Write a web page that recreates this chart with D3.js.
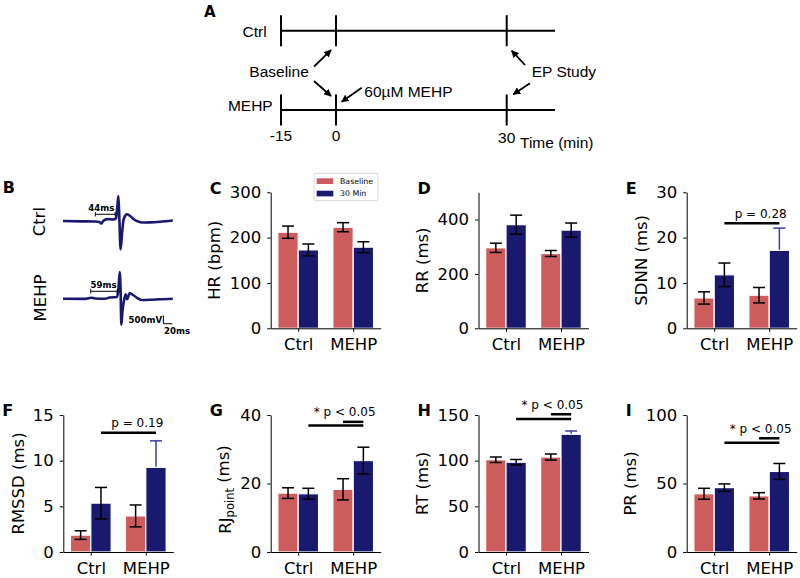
<!DOCTYPE html>
<html>
<head>
<meta charset="utf-8">
<title>MEHP ECG parameters</title>
<style>
  html, body { margin: 0; padding: 0; background: #fff; }
  svg { display: block; }
  text { font-family: "DejaVu Sans", sans-serif; fill: #000; }
  .schem text { font-family: "Liberation Sans", Arial, sans-serif; font-size: 15.5px; }
  .axis path, .axis line { stroke: #000; stroke-width: 1; }
  .axis text { font-size: 16.5px; font-family: "DejaVu Sans", sans-serif; }
</style>
</head>
<body>
<svg id="fig" width="800" height="578"></svg>
<script src="https://cdnjs.cloudflare.com/ajax/libs/d3/7.8.5/d3.min.js"></script>
<script>

// ---------- data ----------
var groups = ["Ctrl", "MEHP"];
var seriesNames = ["Baseline", "30 Min"];
var seriesColors = ["#cd5c5c", "#191970"];

// mean and s.e.m. for [Ctrl, MEHP]
var hrBase = [212, 223],     hrBaseErr = [13.5, 10];
var hr30 = [173, 179],       hr30Err = [13, 12];
var hrTicks = [0, 100, 200, 300];

var rrBase = [296, 275],     rrBaseErr = [17, 11];
var rr30 = [381, 361],       rr30Err = [35, 26];
var rrTicks = [0, 200, 400];

var sdnnBase = [6.7, 7.3],   sdnnBaseErr = [1.35, 1.7];
var sdnn30 = [11.8, 17.2],   sdnn30Err = [2.6, 4.9];
var sdnnTicks = [0, 10, 20, 30];

var rmssdBase = [1.85, 3.95], rmssdBaseErr = [0.47, 1.2];
var rmssd30 = [5.35, 9.27],   rmssd30Err = [1.72, 2.9];
var rmssdTicks = [0, 5, 10, 15];

var rjBase = [17.2, 18.3],   rjBaseErr = [1.55, 3.1];
var rj30 = [17.0, 26.7],     rj30Err = [1.6, 3.9];
var rjTicks = [0, 20, 40];

var rtBase = [101, 104],     rtBaseErr = [3, 3.3];
var rt30 = [98.3, 128.9],    rt30Err = [3, 3.6];
var rtTicks = [0, 50, 100, 150];

var prBase = [42.5, 41],     prBaseErr = [4, 2.3];
var pr30 = [47, 58.8],       pr30Err = [2.7, 5.8];
var prTicks = [0, 50, 100];

// significance bars: [from bar, to bar, height]; bars 0..3 = Ctrl-B, Ctrl-30, MEHP-B, MEHP-30
var sdnnSig = [[1, 3, 23.2]];
var rmssdSig = [[1, 3, 13.06]];
var rjSig = [[1, 3, 36.9], [2, 3, 38.0]];
var rtSig = [[1, 3, 145.6], [2, 3, 150.8]];
var prSig = [[1, 3, 79.8], [2, 3, 83.0]];

// panel A timeline
var timeRows = ["Ctrl", "MEHP"];
var timeTicks = [-15, 0, 30];

// panel B traces: [ms, mV]
var ecgCtrl = [[0,0],[40,-20],[72,-30],[82,-70],[85,-160],[88,-50],[92,60],[100,110],[110,90],
  [116,120],[118,180],[121,950],[123,1490],[125,350],[128,-1690],[131,-830],[134,0],[138,300],
  [142,400],[149,300],[158,90],[167,-30],[176,-90],[193,-80],[216,-40],[244,30]];
var ecgMehp = [[0,0],[49,-12],[63,60],[71,12],[93,-6],[104,71],[120,100],[123,520],[126,1590],
  [128,520],[129.6,-1550],[132,-790],[135.6,-95],[139.3,262],[142.2,-36],[145.6,161],[148.2,339],
  [155.6,220],[166.7,12],[174,-77],[193,-65],[215.6,-30],[244,0]];
var intervalCtrl = 44, intervalMehp = 59;

// ---------- layout ----------
var svg = d3.select("#fig");
var colX = [63.3, 270.7, 478.5, 686.7];
var axW = 110;
var rowY = [[192.3, 328.3], [415, 552]];
var barW = 0.37;

var panels = [
  {id: "C", label: "HR (bpm)", base: hrBase, baseErr: hrBaseErr, post: hr30, postErr: hr30Err, ticks: hrTicks, col: 1, row: 0, legend: true},
  {id: "D", label: "RR (ms)", base: rrBase, baseErr: rrBaseErr, post: rr30, postErr: rr30Err, ticks: rrTicks, max: 500, col: 2, row: 0},
  {id: "E", label: "SDNN (ms)", base: sdnnBase, baseErr: sdnnBaseErr, post: sdnn30, postErr: sdnn30Err, ticks: sdnnTicks, col: 3, row: 0, sig: sdnnSig, sigText: "p = 0.28", blueErr: true},
  {id: "F", label: "RMSSD (ms)", base: rmssdBase, baseErr: rmssdBaseErr, post: rmssd30, postErr: rmssd30Err, ticks: rmssdTicks, col: 0, row: 1, sig: rmssdSig, sigText: "p = 0.19", blueErr: true},
  {id: "G", label: "RJ", sub: "point", base: rjBase, baseErr: rjBaseErr, post: rj30, postErr: rj30Err, ticks: rjTicks, col: 1, row: 1, sig: rjSig, sigText: "* p < 0.05"},
  {id: "H", label: "RT (ms)", base: rtBase, baseErr: rtBaseErr, post: rt30, postErr: rt30Err, ticks: rtTicks, col: 2, row: 1, sig: rtSig, sigText: "* p < 0.05", blueErr: true},
  {id: "I", label: "PR (ms)", base: prBase, baseErr: prBaseErr, post: pr30, postErr: pr30Err, ticks: prTicks, col: 3, row: 1, sig: prSig, sigText: "* p < 0.05"}
];

function errorBars(sel, x, y) {
  sel.append("line")
    .attr("x1", function(d) { return x(d.pos); }).attr("x2", function(d) { return x(d.pos); })
    .attr("y1", function(d) { return y(d.v - d.e); }).attr("y2", function(d) { return y(d.v + d.e); });
  sel.append("line")
    .attr("x1", function(d) { return x(d.pos) - 6; }).attr("x2", function(d) { return x(d.pos) + 6; })
    .attr("y1", function(d) { return y(d.v + d.e); }).attr("y2", function(d) { return y(d.v + d.e); });
  sel.append("line")
    .attr("x1", function(d) { return x(d.pos) - 6; }).attr("x2", function(d) { return x(d.pos) + 6; })
    .attr("y1", function(d) { return y(d.v - d.e); }).attr("y2", function(d) { return y(d.v - d.e); });
}

function barPanel(p) {
  var x0 = colX[p.col], yr = rowY[p.row];
  var ymax = p.max || d3.max(p.ticks);
  var x = d3.scaleLinear().domain([-0.5, 1.5]).range([x0, x0 + axW]);
  var y = d3.scaleLinear().domain([0, ymax]).range([yr[1], yr[0]]);
  var g = svg.append("g");

  var bars = [];
  groups.forEach(function(gr, i) {
    bars.push({pos: i - barW / 2, v: p.base[i], e: p.baseErr[i], s: 0});
    bars.push({pos: i + barW / 2, v: p.post[i], e: p.postErr[i], s: 1});
  });
  // the blue error bar of MEHP 30 Min sits behind its bar
  var behind = p.blueErr ? [bars[3]] : [];
  var front = bars.filter(function(d) { return behind.indexOf(d) < 0; });

  g.selectAll("g.errb").data(behind).enter().append("g")
    .style("stroke", "#3d3d9e").style("stroke-width", 1.5)
    .call(errorBars, x, y);

  g.selectAll("rect.bar").data(bars).enter().append("rect")
    .attr("class", "bar")
    .attr("x", function(d) { return x(d.pos - barW / 2); })
    .attr("width", function(d) { return x(barW) - x(0); })
    .attr("y", function(d) { return y(d.v); })
    .attr("height", function(d) { return y(0) - y(d.v); })
    .style("fill", function(d) { return seriesColors[d.s]; })
    .style("stroke", "#fff")
    .style("stroke-width", 1.2);

  g.selectAll("g.errf").data(front).enter().append("g")
    .style("stroke", "#000").style("stroke-width", 1.5)
    .call(errorBars, x, y);

  // axes
  g.append("g").attr("class", "axis")
    .attr("transform", "translate(" + x0 + ",0)")
    .call(d3.axisLeft(y).tickValues(p.ticks).tickSize(3.5).tickPadding(6).tickSizeOuter(0));
  g.append("g").attr("class", "axis")
    .attr("transform", "translate(0," + yr[1] + ")")
    .call(d3.axisBottom(x).tickValues([0, 1]).tickFormat(function(i) { return groups[i]; })
      .tickSize(3.5).tickPadding(6.5).tickSizeOuter(0));

  // y label
  var digits = String(d3.max(p.ticks)).length;
  var lx = x0 - 10 - digits * 10.5 - 14.5;
  var ly = (yr[0] + yr[1]) / 2 + (p.sub ? 6 : 0);
  var lab = g.append("text")
    .attr("transform", "translate(" + lx + "," + ly + ") rotate(-90)")
    .attr("text-anchor", "middle").attr("dy", "0.35em")
    .style("font-size", "16.5px");
  if (p.sub) {
    lab.append("tspan").text(p.label);
    lab.append("tspan").attr("dy", "0.3em").style("font-size", "11.5px").text(p.sub);
    lab.append("tspan").attr("dy", "-0.3em").text(" (ms)");
  } else {
    lab.text(p.label);
  }

  // panel letter
  g.append("text").attr("x", x0 - 61).attr("y", yr[0] + 1.2)
    .style("font-size", "16px").style("font-weight", "bold").text(p.id);

  // significance
  if (p.sig) {
    var barPos = bars.map(function(d) { return d.pos; });
    g.selectAll("line.sig").data(p.sig).enter().append("line")
      .attr("x1", function(d) { return x(barPos[d[0]]); })
      .attr("x2", function(d) { return x(barPos[d[1]]); })
      .attr("y1", function(d) { return y(d[2]); })
      .attr("y2", function(d) { return y(d[2]); })
      .style("stroke", "#000").style("stroke-width", 2.5);
    var topY = d3.min(p.sig, function(d) { return y(d[2]); });
    g.append("text").attr("x", x(0.845)).attr("y", topY - 5.5)
      .attr("text-anchor", "middle").style("font-size", "12px").text(p.sigText);
  }

  // legend
  if (p.legend) {
    var lg = g.append("g").attr("transform", "translate(314,173.3)");
    lg.append("rect").attr("width", 64).attr("height", 27.4).attr("rx", 2)
      .style("fill", "#fff").style("stroke", "#d0d0d0").style("stroke-width", 0.8);
    seriesNames.forEach(function(s, i) {
      lg.append("rect").attr("x", 2.7).attr("y", 5 + i * 12.4).attr("width", 16.6).attr("height", 5.7)
        .style("fill", seriesColors[i]);
      lg.append("text").attr("x", 26).attr("y", 7.9 + i * 12.4).attr("dy", "0.35em")
        .style("font-size", "7.8px").text(s);
    });
  }
}

panels.forEach(barPanel);

// ---------- panel A: protocol timeline ----------
var defs = svg.append("defs");
defs.append("marker").attr("id", "arrowhead")
  .attr("viewBox", "0 0 10 10").attr("refX", 9).attr("refY", 5)
  .attr("markerWidth", 4.2).attr("markerHeight", 4.2)
  .attr("markerUnits", "strokeWidth").attr("orient", "auto")
  .append("path").attr("d", "M0,0 L10,5 L0,10 z").style("fill", "#000");

var sch = svg.append("g").attr("class", "schem");
var tx = d3.scaleLinear().domain([-15, 0, 30, 40]).range([281, 336, 506.7, 555]);
var ty = d3.scalePoint().domain(timeRows).range([30.7, 110]);

timeRows.forEach(function(r) {
  sch.append("line").attr("x1", tx(-15)).attr("x2", tx(40))
    .attr("y1", ty(r)).attr("y2", ty(r)).style("stroke", "#000").style("stroke-width", 2);
  sch.selectAll("line.tk-" + r).data(timeTicks).enter().append("line")
    .attr("x1", function(d) { return tx(d); }).attr("x2", function(d) { return tx(d); })
    .attr("y1", ty(r) - 15.5).attr("y2", ty(r) + 15.5)
    .style("stroke", "#000").style("stroke-width", 2);
});
sch.append("text").attr("x", 266.7).attr("y", ty("Ctrl") + 6.5).attr("text-anchor", "end").text("Ctrl");
sch.append("text").attr("x", 272.7).attr("y", ty("MEHP") + 0.5).attr("text-anchor", "end").text("MEHP");

sch.selectAll("text.tt").data(timeTicks).enter().append("text")
  .attr("x", function(d) { return tx(d); })
  .attr("y", function(d) { return d === 30 ? 143 : 141; })
  .attr("text-anchor", "middle").text(function(d) { return d; });
sch.append("text").attr("x", 520).attr("y", 147.5).text("Time (min)");

sch.append("text").attr("x", 249.3).attr("y", 77).text("Baseline");
sch.append("text").attr("x", 364.3).attr("y", 96.5).text("60\u00b5M MEHP");
sch.append("text").attr("x", 531.7).attr("y", 77).text("EP Study");

var t0 = tx(0), t30 = tx(30), yC = ty("Ctrl"), yM = ty("MEHP");
var arrows = [
  [t0 - 22, yC + 36, t0 - 5, yC + 19.3],
  [t0 - 22, yM - 29, t0 - 5, yM - 14],
  [t0 + 25.7, yM - 22.3, t0 + 5.7, yM - 8.3],
  [t30 + 18.3, yC + 34.3, t30 + 5, yC + 20],
  [t30 + 23.3, yM - 26.7, t30 + 6.6, yM - 15.7]
];
sch.selectAll("line.arrow").data(arrows).enter().append("line")
  .attr("x1", function(d) { return d[0]; }).attr("y1", function(d) { return d[1]; })
  .attr("x2", function(d) { return d[2]; }).attr("y2", function(d) { return d[3]; })
  .style("stroke", "#000").style("stroke-width", 1.8)
  .attr("marker-end", "url(#arrowhead)");

svg.append("text").attr("x", 204).attr("y", 16.7)
  .style("font-size", "15px").style("font-weight", "bold").text("A");

// ---------- panel B: ECG traces ----------
var et = d3.scaleLinear().domain([0, 244]).range([63, 172.8]);
var evCtrl = d3.scaleLinear().domain([0, 500]).range([221, 212.6]);
var evMehp = d3.scaleLinear().domain([0, 500]).range([298.7, 290.3]);

function trace(data, ev) {
  var line = d3.line().x(function(d) { return et(d[0]); }).y(function(d) { return ev(d[1]); })
    .curve(d3.curveMonotoneX);
  svg.append("path").datum(data).attr("d", line)
    .style("fill", "none").style("stroke", "#191970").style("stroke-width", 2.6)
    .style("stroke-linejoin", "round");
}
trace(ecgCtrl, evCtrl);
trace(ecgMehp, evMehp);

function bracket(t1, ms, v, ev, labelT) {
  var b = svg.append("g").style("stroke", "#000").style("stroke-width", 1);
  var yy = ev(v);
  b.append("line").attr("x1", et(t1)).attr("x2", et(t1 + ms)).attr("y1", yy).attr("y2", yy);
  b.append("line").attr("x1", et(t1)).attr("x2", et(t1)).attr("y1", yy - 2.2).attr("y2", yy + 2.2);
  b.append("line").attr("x1", et(t1 + ms)).attr("x2", et(t1 + ms)).attr("y1", yy - 2.2).attr("y2", yy + 2.2);
  svg.append("text").attr("x", et(labelT)).attr("y", yy - 3.3).attr("text-anchor", "middle")
    .style("font-size", "8.6px").style("font-weight", "bold").text(ms + "ms");
}
bracket(71.8, intervalCtrl, 400, evCtrl, 85.3);
bracket(61.6, intervalMehp, 440, evMehp, 90);

// scale bar
var sbT = 223, sbV = -1490;
svg.append("path")
  .attr("d", "M" + et(sbT) + "," + evMehp(sbV + 500) + " L" + et(sbT) + "," + evMehp(sbV) + " L" + et(sbT + 20) + "," + evMehp(sbV))
  .style("fill", "none").style("stroke", "#000").style("stroke-width", 1);
svg.append("text").attr("x", et(sbT) - 1.3).attr("y", evMehp(sbV) - 0.7).attr("text-anchor", "end")
  .style("font-size", "8.6px").style("font-weight", "bold").text("500mV");
svg.append("text").attr("x", et(sbT) + 0.7).attr("y", evMehp(sbV) + 10)
  .style("font-size", "8.6px").style("font-weight", "bold").text("20ms");

svg.append("text").attr("transform", "translate(39.5,221.7) rotate(-90)")
  .attr("text-anchor", "middle").attr("dy", "0.35em").style("font-size", "16.5px").text("Ctrl");
svg.append("text").attr("transform", "translate(40,298) rotate(-90)")
  .attr("text-anchor", "middle").attr("dy", "0.35em").style("font-size", "16.5px").text("MEHP");
svg.append("text").attr("x", 2.7).attr("y", 193.3)
  .style("font-size", "16px").style("font-weight", "bold").text("B");

</script>
</body>
</html>
